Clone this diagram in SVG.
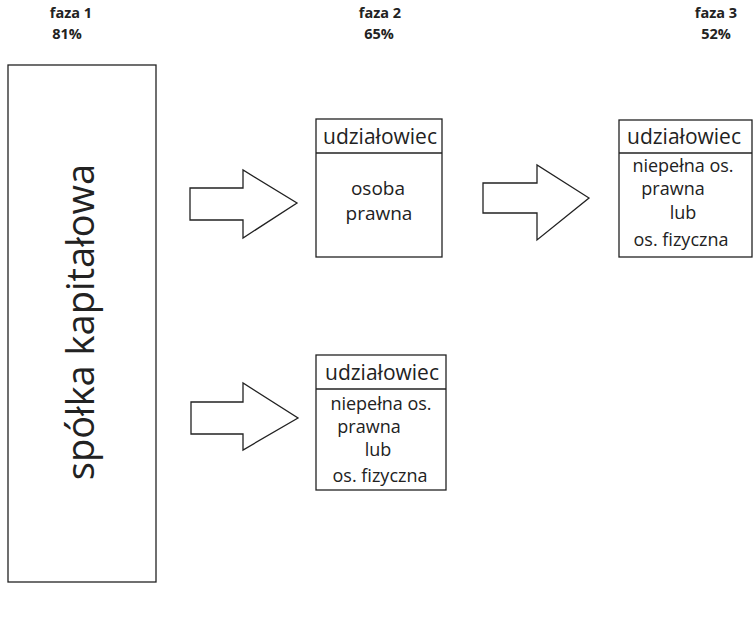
<svg xmlns="http://www.w3.org/2000/svg" width="753" height="617" viewBox="0 0 753 617">
<style>
.box{fill:#fff;stroke:#222;stroke-width:1.3}
.arr{fill:#fff;stroke:#222;stroke-width:1.3;stroke-linejoin:miter}
.t{font-family:"Open Sans","Noto Sans","DejaVu Sans",sans-serif;fill:#222;text-anchor:middle}
.h{font-family:"Open Sans","Noto Sans","DejaVu Sans",sans-serif;font-weight:bold;font-size:14.5px;fill:#222;text-anchor:middle}
.hd{font-size:21px}
.bd{font-size:18px}
.big{font-size:19px}
</style>
<rect width="753" height="617" fill="#fff"/>
<g id="headers">
<text class="h" x="71" y="18">faza 1</text>
<text class="h" x="67" y="39">81%</text>
<text class="h" x="380" y="18">faza 2</text>
<text class="h" x="379" y="39">65%</text>
<text class="h" x="716" y="18">faza 3</text>
<text class="h" x="716" y="39">52%</text>
</g>
<g id="spolka">
<rect class="box" x="8" y="65" width="148" height="517"/>
<text class="t" font-size="38" transform="translate(94,322) rotate(-90)">spółka kapitałowa</text>
</g>
<g id="connectors">
<path class="arr" d="M190,188 H243 V170 L297,203 L243,238 V220 H190 Z"/>
<path class="arr" d="M483,183 H537 V165 L589,198 L537,240 V213 H483 Z"/>
<path class="arr" d="M191,402 H243 V383 L298,418 L243,450 V434 H191 Z"/>
</g>
<g id="udzialowiec-osoba-prawna">
<rect class="box" x="316" y="119" width="126" height="138"/>
<line class="box" x1="316" y1="153" x2="442" y2="153"/>
<text class="t hd" x="380" y="144">udziałowiec</text>
<text class="t big" x="378" y="195">osoba</text>
<text class="t big" x="379" y="220">prawna</text>
</g>
<g id="udzialowiec-faza3">
<rect class="box" x="619" y="120" width="133" height="137"/>
<line class="box" x1="619" y1="153" x2="752" y2="153"/>
<text class="t hd" x="684" y="144">udziałowiec</text>
<text class="t bd" x="683" y="172">niepełna os.</text>
<text class="t bd" x="673" y="195">prawna</text>
<text class="t bd" x="683" y="219">lub</text>
<text class="t bd" x="681" y="246">os. fizyczna</text>
</g>
<g id="udzialowiec-faza2-dol">
<rect class="box" x="316" y="355" width="130" height="135"/>
<line class="box" x1="316" y1="389" x2="446" y2="389"/>
<text class="t hd" x="382" y="380">udziałowiec</text>
<text class="t bd" x="381" y="410">niepełna os.</text>
<text class="t bd" x="369" y="433">prawna</text>
<text class="t bd" x="378" y="456">lub</text>
<text class="t bd" x="380" y="482">os. fizyczna</text>
</g>
</svg>
